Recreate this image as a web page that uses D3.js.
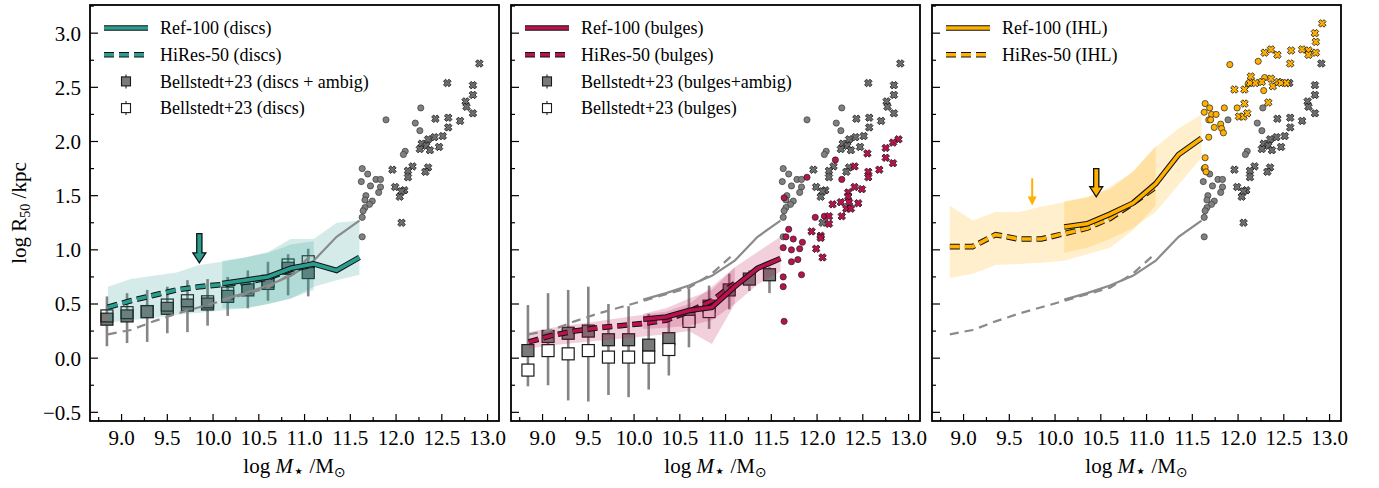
<!DOCTYPE html>
<html>
<head>
<meta charset="utf-8">
<script src="https://cdn.jsdelivr.net/npm/d3@7"></script>
<style>
body { margin: 0; background: #fff; }
svg text { font-family: "Liberation Serif", "Times New Roman", serif; fill: #000; }
</style>
</head>
<body>
<svg width="1379" height="488"></svg>
<script>
// ---- data ----
var xHiRes = [8.85, 9.1, 9.35, 9.6, 9.85, 10.1, 10.35, 10.6, 10.85, 11.1];
var xRef = [10.1, 10.35, 10.6, 10.85, 11.1, 11.35, 11.6];
var xBell = [8.84, 9.06, 9.28, 9.5, 9.72, 9.94, 10.16, 10.38, 10.6, 10.82, 11.04, 11.26, 11.48];

// grey reference curves (shown in every panel)
var greyHiRes = [0.22, 0.26, 0.34, 0.41, 0.47, 0.53, 0.59, 0.65, 0.78, 0.97];
var greyRef = [0.54, 0.60, 0.67, 0.76, 0.90, 1.12, 1.27];

// discs
var discRef = [0.69, 0.72, 0.75, 0.83, 0.87, 0.81, 0.93];
var discHiRes = [0.47, 0.53, 0.58, 0.63, 0.66, 0.68, 0.70, 0.74, 0.82, 0.86];
var discHiResLo = [0.33, 0.35, 0.37, 0.40, 0.42, 0.44, 0.46, 0.50, 0.55, 0.63];
var discHiResHi = [0.66, 0.73, 0.76, 0.79, 0.86, 0.89, 0.93, 0.97, 1.05, 1.08];
var discRefLo = [0.46, 0.46, 0.50, 0.55, 0.66, 0.72, 0.77];
var discRefHi = [0.90, 0.93, 0.98, 1.10, 1.10, 1.25, 1.27];
var discAmbig = [0.36, 0.39, 0.43, 0.46, 0.49, 0.50, 0.57, 0.63, 0.69, 0.83, 0.79];
var discOnly = [0.39, 0.42, 0.43, 0.49, 0.53, 0.52, 0.60, 0.66, 0.71, 0.86, 0.89];
var discErrLo = [0.11, 0.14, 0.15, 0.23, 0.24, 0.30, 0.39, 0.46, 0.53, 0.58, 0.57];
var discErrHi = [0.57, 0.60, 0.63, 0.66, 0.72, 0.73, 0.75, 0.81, 0.89, 0.96, 1.01];

// bulges
var bulgeRef = [0.36, 0.38, 0.44, 0.47, 0.66, 0.83, 0.92];
var bulgeHiRes = [0.15, 0.21, 0.25, 0.28, 0.30, 0.32, 0.35, 0.43, 0.53, 0.69];
var bulgeHiResLo = [0.09, 0.12, 0.14, 0.16, 0.18, 0.20, 0.22, 0.25, 0.13, 0.50];
var bulgeHiResHi = [0.24, 0.28, 0.31, 0.34, 0.37, 0.40, 0.43, 0.50, 0.66, 0.84];
var bulgeRefLo = [0.27, 0.28, 0.30, 0.35, 0.50, 0.68, 0.80];
var bulgeRefHi = [0.41, 0.46, 0.55, 0.63, 0.84, 0.98, 1.12];
var bulgeAmbig = [0.07, 0.20, 0.23, 0.25, 0.17, 0.17, 0.12, 0.18, 0.37, 0.48, 0.63, 0.73, 0.77];
var bulgeOnly = [-0.11, 0.07, 0.04, 0.07, 0.01, 0.01, 0.01, 0.08, 0.34, 0.43];
var bulgeErrLo = [-0.26, -0.25, -0.39, -0.40, -0.34, -0.36, -0.29, -0.16, 0.10, 0.27, 0.45, 0.62, 0.60];
var bulgeErrHi = [0.49, 0.60, 0.63, 0.66, 0.50, 0.48, 0.41, 0.40, 0.64, 0.67, 0.78, 0.81, 0.84];

// IHL
var ihlRef = [1.21, 1.24, 1.33, 1.43, 1.61, 1.88, 2.03];
var ihlHiRes = [1.03, 1.03, 1.14, 1.10, 1.10, 1.15, 1.20, 1.29, 1.43, 1.58];
var ihlHiResLo = [0.74, 0.78, 0.86, 0.87, 0.88, 0.90, 0.96, 1.02, 1.18, 1.41];
var ihlHiResHi = [1.41, 1.27, 1.35, 1.35, 1.40, 1.44, 1.49, 1.56, 1.72, 1.96];
var ihlRefLo = [0.97, 1.02, 1.10, 1.20, 1.35, 1.60, 1.85];
var ihlRefHi = [1.45, 1.48, 1.58, 1.72, 1.95, 2.12, 2.25];

// individual massive systems
var greyCircX = [12.27, 11.89, 12.21, 12.26, 12.10, 12.08, 11.63, 11.69, 11.62, 11.72, 11.78, 11.83, 11.83, 11.81, 11.67, 11.66, 11.74, 11.71, 11.66, 11.64, 11.63, 11.63];
var greyCircY = [2.31, 2.20, 2.17, 2.10, 1.91, 1.88, 1.75, 1.70, 1.63, 1.59, 1.65, 1.65, 1.58, 1.53, 1.50, 1.46, 1.45, 1.42, 1.39, 1.36, 1.30, 1.12];
var greyCrossX = [12.91, 12.56, 12.84, 12.84, 12.76, 12.77, 12.84, 12.43, 12.57, 12.70, 12.57, 12.51, 12.42, 12.35, 12.28, 12.33, 12.26, 12.37, 12.47, 12.18, 12.13, 11.96, 12.13, 12.35, 12.32, 11.99, 12.09, 12.06, 12.04, 12.06];
var greyCrossY = [2.72, 2.54, 2.52, 2.43, 2.37, 2.32, 2.26, 2.21, 2.22, 2.19, 2.13, 2.05, 2.04, 2.02, 1.98, 1.96, 1.93, 1.92, 1.95, 1.77, 1.73, 1.74, 1.67, 1.76, 1.72, 1.58, 1.55, 1.54, 1.49, 1.25];
var bulgeCircX = [12.20, 11.89, 12.27, 11.64, 11.98, 12.08, 11.69, 11.66, 11.74, 11.84, 11.63, 11.72, 11.81, 11.79, 11.72, 11.63, 11.83, 11.63, 11.64];
var bulgeCircY = [1.83, 1.67, 1.65, 1.48, 1.30, 1.31, 1.19, 1.12, 1.10, 1.07, 1.02, 1.00, 1.01, 0.91, 0.89, 0.75, 0.77, 0.66, 0.34];
var bulgeCrossX = [12.89, 12.83, 12.75, 12.75, 12.83, 12.68, 12.55, 12.56, 12.56, 12.41, 12.41, 12.49, 12.34, 12.34, 12.35, 12.45, 12.17, 12.26, 12.32, 12.37, 12.27, 12.13, 12.13, 11.94, 12.04, 12.04, 11.99, 12.06];
var bulgeCrossY = [2.02, 1.99, 1.94, 1.85, 1.80, 1.74, 1.89, 1.72, 1.67, 1.77, 1.58, 1.56, 1.53, 1.49, 1.44, 1.43, 1.42, 1.44, 1.38, 1.38, 1.31, 1.31, 1.24, 1.17, 1.13, 1.11, 1.01, 0.93];
var ihlCircX = [11.91, 12.22, 12.29, 12.28, 11.64, 11.69, 11.63, 11.71, 11.76, 11.85, 11.99, 11.68, 11.70, 11.81, 11.74, 11.82, 11.84, 11.68, 11.64, 11.64, 11.65, 12.11];
var ihlCircY = [2.71, 2.74, 2.59, 2.47, 2.35, 2.31, 2.27, 2.25, 2.25, 2.31, 2.31, 2.20, 2.20, 2.16, 2.13, 2.12, 2.08, 2.04, 1.85, 1.76, 1.72, 2.53];
var ihlCrossX = [12.92, 12.84, 12.85, 12.29, 12.36, 12.43, 12.58, 12.57, 12.70, 12.77, 12.77, 12.85, 12.14, 11.96, 12.07, 12.13, 12.19, 12.26, 12.36, 12.38, 12.44, 12.47, 12.53, 12.33, 12.07, 12.01, 12.06, 12.10];
var ihlCrossY = [3.09, 3.00, 2.92, 2.82, 2.85, 2.80, 2.84, 2.72, 2.85, 2.84, 2.80, 2.82, 2.60, 2.48, 2.48, 2.54, 2.54, 2.55, 2.58, 2.51, 2.55, 2.54, 2.54, 2.36, 2.35, 2.23, 2.23, 2.26];

// arrows: [x, y top, y tip]
var discArrow = [9.85, 1.15, 0.88];
var ihlArrow = [10.45, 1.75, 1.49];
var ihlArrowThin = [9.75, 1.66, 1.41];

var legendDiscs = ["Ref-100 (discs)", "HiRes-50 (discs)", "Bellstedt+23 (discs + ambig)", "Bellstedt+23 (discs)"];
var legendBulges = ["Ref-100 (bulges)", "HiRes-50 (bulges)", "Bellstedt+23 (bulges+ambig)", "Bellstedt+23 (bulges)"];
var legendIHL = ["Ref-100 (IHL)", "HiRes-50 (IHL)"];

var xTicks = d3.range(8.75, 13.01, 0.25);
var yTicks = d3.range(-0.5, 3.26, 0.25);

// ---- layout ----
var svg = d3.select("svg"),
    panelW = 409,
    plotTop = 5,
    plotBottom = 421,
    lefts = [90, 511, 932];

var y = d3.scaleLinear().domain([-0.58, 3.26]).range([plotBottom, plotTop]);

function pts(xs, ys) { return ys.map(function(v, i) { return {x: xs[i], y: v}; }); }
function band(xs, lo, hi) { return lo.map(function(v, i) { return {x: xs[i], lo: v, hi: hi[i]}; }); }

// filled "X" marker
function crossPath(a, b) {
  var p = [[-b,-a],[b,-a],[b,-b],[a,-b],[a,b],[b,b],[b,a],[-b,a],[-b,b],[-a,b],[-a,-b],[-b,-b]];
  return "M" + p.map(function(q) {
    return [((q[0] - q[1]) / Math.SQRT2).toFixed(2), ((q[0] + q[1]) / Math.SQRT2).toFixed(2)].join(",");
  }).join("L") + "Z";
}
var crossD = crossPath(3.9, 1.45);

var panels = [
  {color: "#2a9d8f", ref: discRef, hires: discHiRes,
   bandH: band(xHiRes, discHiResLo, discHiResHi), bandR: band(xRef, discRefLo, discRefHi),
   ambig: discAmbig, only: discOnly, errLo: discErrLo, errHi: discErrHi,
   legend: legendDiscs, arrows: [discArrow], thin: []},
  {color: "#b8124f", ref: bulgeRef, hires: bulgeHiRes,
   bandH: band(xHiRes, bulgeHiResLo, bulgeHiResHi), bandR: band(xRef, bulgeRefLo, bulgeRefHi),
   ambig: bulgeAmbig, only: bulgeOnly, errLo: bulgeErrLo, errHi: bulgeErrHi,
   legend: legendBulges, arrows: [], thin: [],
   circ: pts(bulgeCircX, bulgeCircY), cross: pts(bulgeCrossX, bulgeCrossY)},
  {color: "#ffb000", ref: ihlRef, hires: ihlHiRes,
   bandH: band(xHiRes, ihlHiResLo, ihlHiResHi), bandR: band(xRef, ihlRefLo, ihlRefHi),
   legend: legendIHL, arrows: [ihlArrow], thin: [ihlArrowThin],
   circ: pts(ihlCircX, ihlCircY), cross: pts(ihlCrossX, ihlCrossY)}
];

panels.forEach(function(p, k) {
  var left = lefts[k];
  var x = d3.scaleLinear().domain([8.655, 13.125]).range([left, left + panelW]);
  var g = svg.append("g");

  var line = d3.line().x(function(d) { return x(d.x); }).y(function(d) { return y(d.y); });
  var area = d3.area().x(function(d) { return x(d.x); })
      .y0(function(d) { return y(d.lo); }).y1(function(d) { return y(d.hi); });

  // Bellstedt+23 points with error bars
  if (p.ambig) {
    var sq = 12;
    g.selectAll(".err").data(p.errLo).enter().append("line")
      .attr("x1", function(d, i) { return x(xBell[i]); })
      .attr("x2", function(d, i) { return x(xBell[i]); })
      .attr("y1", function(d) { return y(d); })
      .attr("y2", function(d, i) { return y(p.errHi[i]); })
      .attr("stroke", "#858585").attr("stroke-width", 2.6);
    g.selectAll(".sqa").data(p.ambig).enter().append("rect")
      .attr("x", function(d, i) { return x(xBell[i]) - sq / 2; })
      .attr("y", function(d) { return y(d) - sq / 2; })
      .attr("width", sq).attr("height", sq)
      .attr("fill", "#7a7a7a").attr("stroke", "#1a1a1a").attr("stroke-width", 1.2);
    g.selectAll(".sqo").data(p.only).enter().append("rect")
      .attr("x", function(d, i) { return x(xBell[i]) - sq / 2; })
      .attr("y", function(d) { return y(d) - sq / 2; })
      .attr("width", sq).attr("height", sq)
      .attr("fill", k === 0 ? "none" : "#fff").attr("stroke", "#1a1a1a").attr("stroke-width", 1.2);
  }

  // scatter bands
  g.append("path").attr("d", area(p.bandH)).attr("fill", p.color).attr("fill-opacity", 0.2);
  g.append("path").attr("d", area(p.bandR)).attr("fill", p.color).attr("fill-opacity", 0.2);

  // grey curves
  g.append("path").attr("d", line(pts(xHiRes, greyHiRes))).attr("fill", "none")
    .attr("stroke", "#8a8a8a").attr("stroke-width", 2.2).attr("stroke-dasharray", "9,6");
  g.append("path").attr("d", line(pts(xRef, greyRef))).attr("fill", "none")
    .attr("stroke", "#8a8a8a").attr("stroke-width", 2.2);

  // coloured medians with black edge
  [[pts(xHiRes, p.hires), "10,5"], [pts(xRef, p.ref), null]].forEach(function(s) {
    g.append("path").attr("d", line(s[0])).attr("fill", "none")
      .attr("stroke", "#111").attr("stroke-width", 5.6).attr("stroke-dasharray", s[1]);
    g.append("path").attr("d", line(s[0])).attr("fill", "none")
      .attr("stroke", p.color).attr("stroke-width", 3.6).attr("stroke-dasharray", s[1]);
  });

  // massive systems
  g.selectAll(".gc").data(pts(greyCircX, greyCircY)).enter().append("circle")
    .attr("cx", function(d) { return x(d.x); }).attr("cy", function(d) { return y(d.y); })
    .attr("r", 3.1).attr("fill", "#808080").attr("stroke", "#3a3a3a").attr("stroke-width", 0.7);
  g.selectAll(".gx").data(pts(greyCrossX, greyCrossY)).enter().append("path")
    .attr("transform", function(d) { return "translate(" + x(d.x) + "," + y(d.y) + ")"; })
    .attr("d", crossD).attr("fill", "#6e6e6e").attr("stroke", "#111").attr("stroke-width", 0.8);
  if (p.circ) {
    g.selectAll(".cc").data(p.circ).enter().append("circle")
      .attr("cx", function(d) { return x(d.x); }).attr("cy", function(d) { return y(d.y); })
      .attr("r", 3.1).attr("fill", p.color).attr("stroke", "#222").attr("stroke-width", 0.7);
    g.selectAll(".cx").data(p.cross).enter().append("path")
      .attr("transform", function(d) { return "translate(" + x(d.x) + "," + y(d.y) + ")"; })
      .attr("d", crossD).attr("fill", p.color).attr("stroke", "#111").attr("stroke-width", 0.8);
  }

  // arrows
  p.arrows.forEach(function(a) {
    var ax = x(a[0]), y0 = y(a[1]), y1 = y(a[2]);
    var poly = [[ax-2.6,y0],[ax+2.6,y0],[ax+2.6,y1-10],[ax+6.5,y1-10],[ax,y1],[ax-6.5,y1-10],[ax-2.6,y1-10]];
    g.append("path").attr("d", "M" + poly.join("L") + "Z")
      .attr("fill", p.color).attr("stroke", "#111").attr("stroke-width", 1.3);
  });
  p.thin.forEach(function(a) {
    var ax = x(a[0]), y0 = y(a[1]), y1 = y(a[2]);
    g.append("line").attr("x1", ax).attr("x2", ax).attr("y1", y0).attr("y2", y1 - 7)
      .attr("stroke", p.color).attr("stroke-width", 2);
    g.append("path").attr("d", "M" + [[ax-4.5,y1-9],[ax+4.5,y1-9],[ax,y1]].join("L") + "Z")
      .attr("fill", p.color);
  });

  // frame and ticks
  g.append("rect").attr("x", left).attr("y", plotTop).attr("width", panelW).attr("height", plotBottom - plotTop)
    .attr("fill", "none").attr("stroke", "#000").attr("stroke-width", 1.8);

  var isMajor = function(v) { return Math.abs(v * 2 - Math.round(v * 2)) < 1e-6; };
  g.selectAll(".xt").data(xTicks).enter().append("line")
    .attr("x1", function(d) { return x(d); }).attr("x2", function(d) { return x(d); })
    .attr("y1", plotBottom).attr("y2", function(d) { return plotBottom - (isMajor(d) ? 7 : 4); })
    .attr("stroke", "#000").attr("stroke-width", 1.2);
  g.selectAll(".xl").data(xTicks.filter(function(d) { return isMajor(d) && d >= 9; })).enter().append("text")
    .attr("x", function(d) { return x(d); }).attr("y", 445)
    .attr("text-anchor", "middle").style("font-size", "21px")
    .text(d3.format(".1f"));
  g.selectAll(".yt").data(yTicks).enter().append("line")
    .attr("x1", left).attr("x2", function(d) { return left + (isMajor(d) ? 8 : 4); })
    .attr("y1", function(d) { return y(d); }).attr("y2", function(d) { return y(d); })
    .attr("stroke", "#000").attr("stroke-width", 1.2);
  if (k === 0) {
    g.selectAll(".yl").data(yTicks.filter(isMajor)).enter().append("text")
      .attr("x", left - 9).attr("y", function(d) { return y(d); }).attr("dy", "0.35em")
      .attr("text-anchor", "end").style("font-size", "21px")
      .text(d3.format(".1f"));
  }

  // x label
  var xl = g.append("text").attr("x", left + panelW / 2).attr("y", 473)
    .attr("text-anchor", "middle").style("font-size", "21px");
  xl.append("tspan").text("log ");
  xl.append("tspan").style("font-style", "italic").text("M");
  xl.append("tspan").attr("dy", 4).style("font-size", "18px").style("font-family", "DejaVu Sans").text("\u22c6");
  xl.append("tspan").attr("dy", -4).text(" /M");
  xl.append("tspan").attr("dy", 4).style("font-size", "14px").style("font-family", "DejaVu Sans").text("\u2299");

  // legend
  var legend = g.selectAll(".legend").data(p.legend).enter().append("g")
    .attr("transform", function(d, i) { return "translate(" + left + "," + (plotTop + 23 + i * 26.7) + ")"; });
  legend.each(function(d, i) {
    var lg = d3.select(this);
    if (i < 2) {
      var dash = i === 1 ? "10,5" : null;
      lg.append("line").attr("x1", 14).attr("x2", 58).attr("stroke", "#111")
        .attr("stroke-width", 5.6).attr("stroke-dasharray", dash);
      lg.append("line").attr("x1", 14).attr("x2", 58).attr("stroke", p.color)
        .attr("stroke-width", 3.6).attr("stroke-dasharray", dash);
    } else {
      lg.append("line").attr("x1", 36).attr("x2", 36).attr("y1", -7).attr("y2", 7)
        .attr("stroke", "#858585").attr("stroke-width", 2);
      lg.append("rect").attr("x", 31.5).attr("y", -4.5).attr("width", 9).attr("height", 9)
        .attr("fill", i === 2 ? "#7a7a7a" : "#fff").attr("stroke", "#1a1a1a").attr("stroke-width", 1.1);
    }
    lg.append("text").attr("x", 70).attr("dy", "0.35em").style("font-size", "18px").text(d);
  });
});

// y label
var yl = svg.append("text").attr("transform", "translate(26," + (plotTop + plotBottom) / 2 + ") rotate(-90)")
  .attr("text-anchor", "middle").style("font-size", "21px");
yl.append("tspan").text("log R");
yl.append("tspan").attr("dy", 4).style("font-size", "14px").text("50");
yl.append("tspan").attr("dy", -4).text(" /kpc");
</script>
</body>
</html>
